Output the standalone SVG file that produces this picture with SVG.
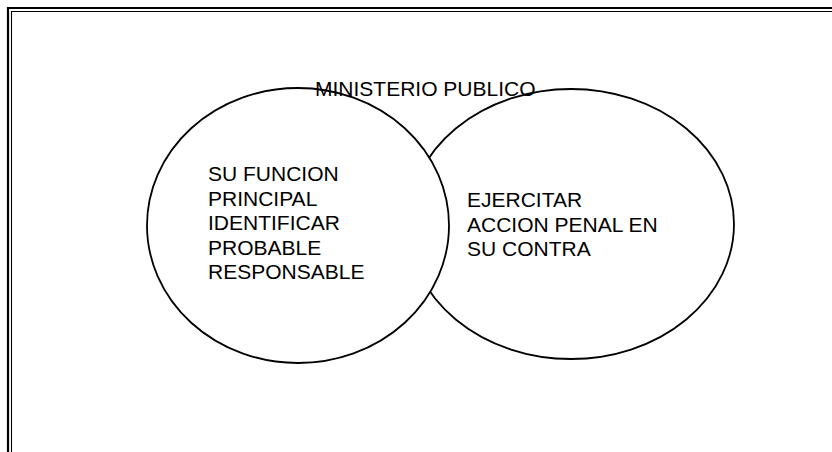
<svg xmlns="http://www.w3.org/2000/svg" width="832" height="452" viewBox="0 0 832 452">
<style>
.ell{fill:#fff;stroke:#000;stroke-width:1.8}
.t{font-family:"Liberation Sans",Arial,sans-serif;font-size:21px;fill:#000}
.b1{stroke:#000;stroke-width:2.2;fill:none}
.b2{stroke:#000;stroke-width:1.1;fill:none}
</style>
<rect width="832" height="452" fill="#fff"/>
<g id="border">
<path class="b1" d="M8,452 V8 H832"/>
<path class="b2" d="M11.5,452 V11.5 H832"/>
</g>
<g id="node-accion">
<ellipse class="ell" cx="571" cy="224" rx="163" ry="135"/>
<text class="t" x="467" y="207">EJERCITAR</text>
<text class="t" x="467" y="231.5">ACCION PENAL EN</text>
<text class="t" x="467" y="256">SU CONTRA</text>
</g>
<g id="node-funcion">
<ellipse class="ell" cx="298" cy="225.5" rx="151" ry="137.5"/>
<text class="t" x="208" y="181">SU FUNCION</text>
<text class="t" x="208" y="205.5">PRINCIPAL</text>
<text class="t" x="208" y="230">IDENTIFICAR</text>
<text class="t" x="208" y="254.5">PROBABLE</text>
<text class="t" x="208" y="279">RESPONSABLE</text>
</g>
<g id="title">
<text class="t" x="315" y="96">MINISTERIO PUBLICO</text>
</g>
<g id="connectors"/>
</svg>
